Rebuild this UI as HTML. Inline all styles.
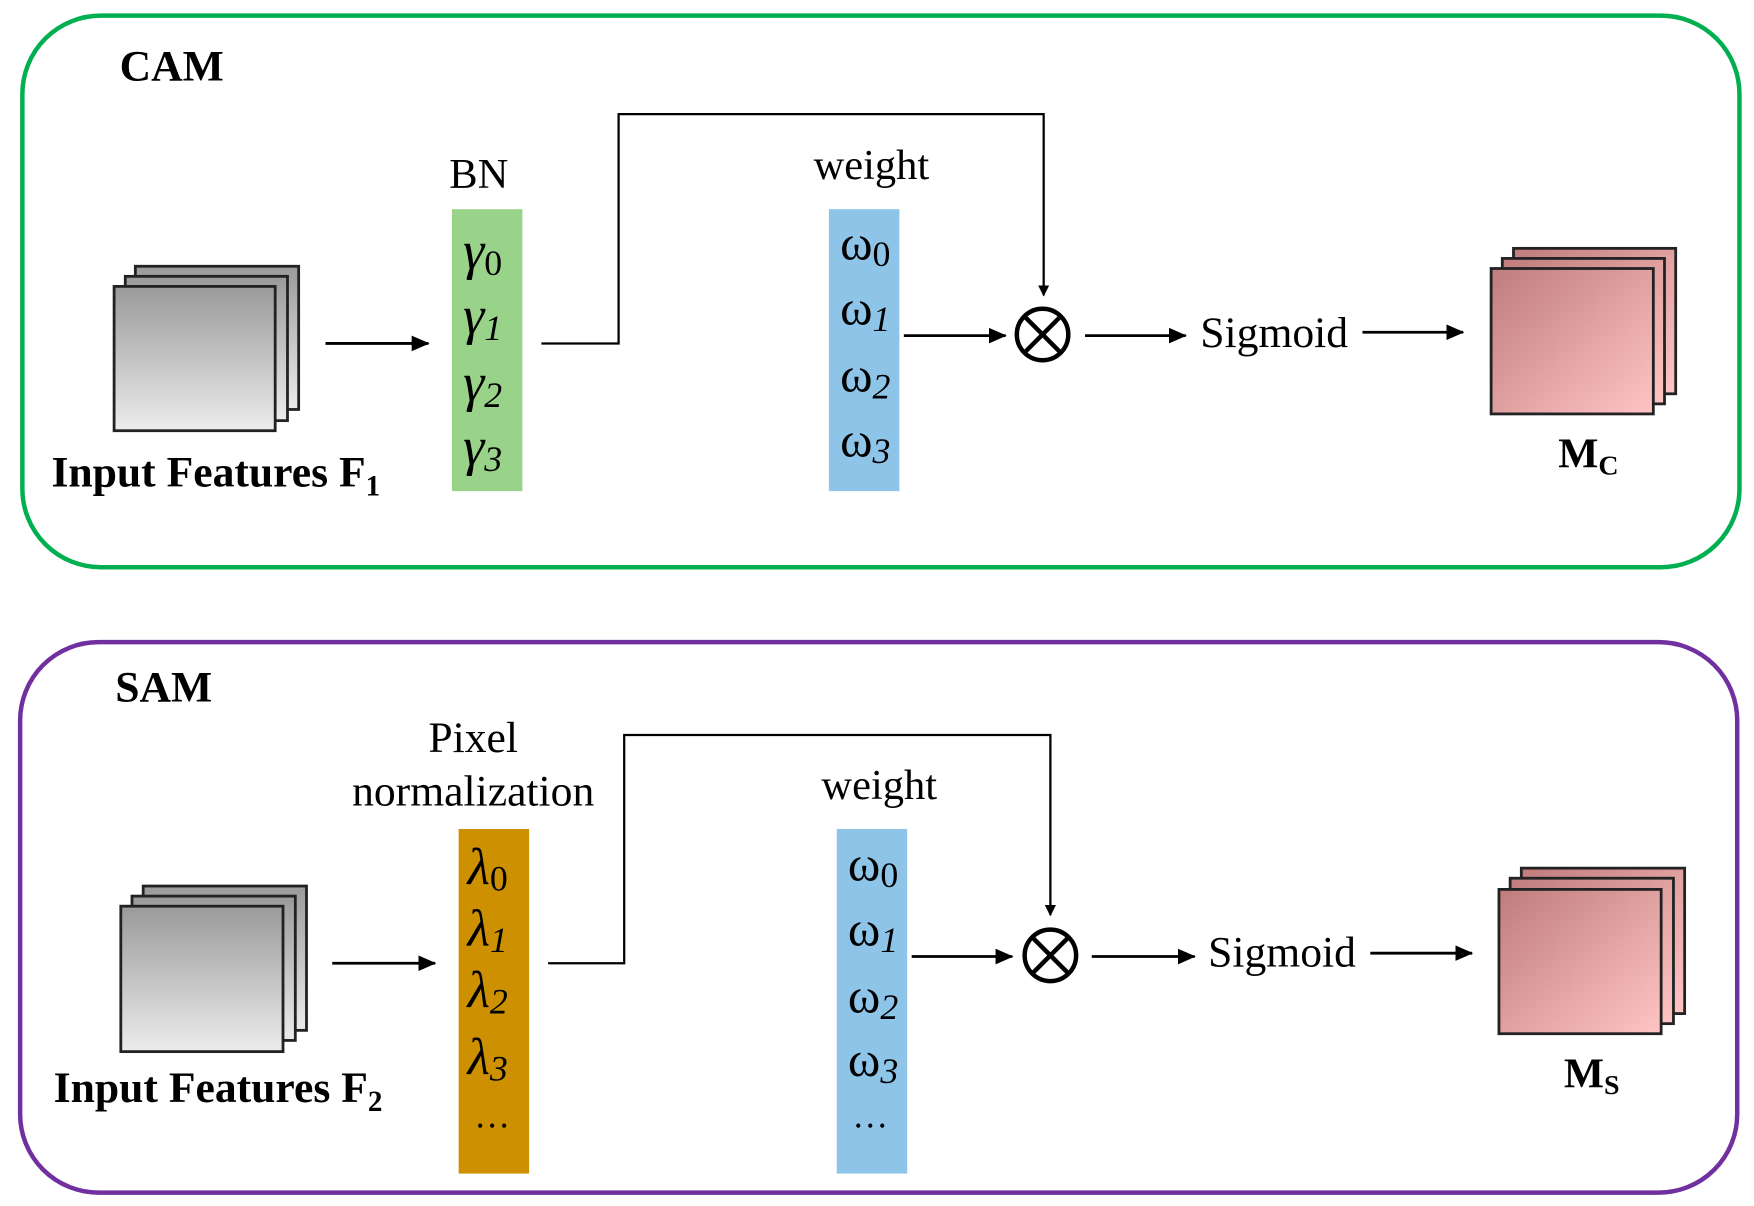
<!DOCTYPE html>
<html><head><meta charset="utf-8"><style>html,body{margin:0;padding:0;background:#fff}svg{display:block}</style></head>
<body>
<svg width="1754" height="1206" viewBox="0 0 1568 1078" preserveAspectRatio="none" xmlns="http://www.w3.org/2000/svg" font-family="'Liberation Serif', serif">
<defs>
<linearGradient id="g" x1="0" y1="0" x2="0" y2="1"><stop offset="0" stop-color="#9a9a9a"/><stop offset="1" stop-color="#ececec"/></linearGradient>
<linearGradient id="p" x1="0" y1="0" x2="1" y2="1"><stop offset="0" stop-color="#c07c7c"/><stop offset="1" stop-color="#ffc4c4"/></linearGradient>
<marker id="a" markerWidth="10" markerHeight="10" refX="9" refY="5" orient="auto" markerUnits="userSpaceOnUse" viewBox="0 0 10 10"><path d="M0,0 L10,5 L0,10 z" fill="#000"/></marker>
<marker id="b" markerWidth="16" markerHeight="14" refX="15" refY="7" orient="auto" markerUnits="userSpaceOnUse" viewBox="0 0 16 14"><path d="M0,0 L16,7 L0,14 z" fill="#000"/></marker>
</defs>
<rect x="20" y="14" width="1535" height="493" rx="70" fill="none" stroke="#00b050" stroke-width="4"/>
<rect x="18" y="574" width="1535" height="492" rx="70" fill="none" stroke="#7030a0" stroke-width="4"/>

<g id="cam">
<text x="107" y="72" font-size="39" font-weight="bold">CAM</text>
<rect x="121" y="238" width="146" height="128" fill="url(#g)" stroke="#222" stroke-width="2.5"/>
<rect x="112" y="247" width="145" height="129" fill="url(#g)" stroke="#222" stroke-width="2.5"/>
<rect x="102" y="256" width="144" height="129" fill="url(#g)" stroke="#222" stroke-width="2.5"/>
<text x="46" y="435" font-size="39" font-weight="bold">Input Features F<tspan font-size="26" dy="8">1</tspan></text>
<line x1="291" y1="307" x2="383" y2="307" stroke="#000" stroke-width="2.5" marker-end="url(#b)"/>
<text x="428" y="168" font-size="38" text-anchor="middle">BN</text>
<rect x="404" y="187" width="63" height="252" fill="#99d38a"/>
<g font-size="48" font-style="italic"><text x="414" y="240">γ<tspan font-size="32" font-style="normal" dy="6">0</tspan></text>
<text x="414" y="298">γ<tspan font-size="32" dy="6">1</tspan></text>
<text x="414" y="358">γ<tspan font-size="32" dy="6">2</tspan></text>
<text x="414" y="415">γ<tspan font-size="32" dy="6">3</tspan></text></g>
<polyline points="484,307 553,307 553,102 933,102 933,264" fill="none" stroke="#000" stroke-width="2" marker-end="url(#a)"/>
<text x="779" y="160" font-size="38" text-anchor="middle">weight</text>
<rect x="741" y="187" width="63" height="252" fill="#8ec4e8"/>
<g font-size="44"><text x="751" y="232">ω<tspan font-size="32" dy="6">0</tspan></text>
<text x="751" y="290">ω<tspan font-size="32" font-style="italic" dy="6">1</tspan></text>
<text x="751" y="350">ω<tspan font-size="32" font-style="italic" dy="6">2</tspan></text>
<text x="751" y="408">ω<tspan font-size="32" font-style="italic" dy="6">3</tspan></text></g>
<line x1="808" y1="300" x2="899" y2="300" stroke="#000" stroke-width="2.5" marker-end="url(#b)"/>
<circle cx="932" cy="299" r="23" fill="none" stroke="#000" stroke-width="4"/>
<line x1="916" y1="283" x2="948" y2="315" stroke="#000" stroke-width="4"/><line x1="948" y1="283" x2="916" y2="315" stroke="#000" stroke-width="4"/>
<line x1="970" y1="300" x2="1060" y2="300" stroke="#000" stroke-width="2.5" marker-end="url(#b)"/>
<text x="1073" y="310" font-size="39">Sigmoid</text>
<line x1="1218" y1="297" x2="1308" y2="297" stroke="#000" stroke-width="2.5" marker-end="url(#b)"/>
<rect x="1353" y="222" width="145" height="130" fill="url(#p)" stroke="#222" stroke-width="2.5"/>
<rect x="1343" y="231" width="145" height="130" fill="url(#p)" stroke="#222" stroke-width="2.5"/>
<rect x="1333" y="240" width="145" height="130" fill="url(#p)" stroke="#222" stroke-width="2.5"/>
<text x="1393" y="418" font-size="38" font-weight="bold">M<tspan font-size="25" dy="6">C</tspan></text>
</g>

<g id="sam">
<text x="103" y="627" font-size="39" font-weight="bold">SAM</text>
<rect x="128" y="792" width="146" height="129" fill="url(#g)" stroke="#222" stroke-width="2.5"/>
<rect x="118" y="801" width="146" height="129" fill="url(#g)" stroke="#222" stroke-width="2.5"/>
<rect x="108" y="810" width="145" height="130" fill="url(#g)" stroke="#222" stroke-width="2.5"/>
<text x="48" y="985" font-size="39" font-weight="bold">Input Features F<tspan font-size="26" dy="8">2</tspan></text>
<line x1="297" y1="861" x2="389" y2="861" stroke="#000" stroke-width="2.5" marker-end="url(#b)"/>
<text x="423" y="672" font-size="39" text-anchor="middle">Pixel</text>
<text x="423" y="720" font-size="39" text-anchor="middle">normalization</text>
<rect x="410" y="741" width="63" height="308" fill="#cc9000"/>
<g font-size="46" font-style="italic"><text x="418" y="790">λ<tspan font-size="32" font-style="normal" dy="6">0</tspan></text>
<text x="418" y="845">λ<tspan font-size="32" dy="6">1</tspan></text>
<text x="418" y="900">λ<tspan font-size="32" dy="6">2</tspan></text>
<text x="418" y="960">λ<tspan font-size="32" dy="6">3</tspan></text></g>
<text x="424" y="1008" font-size="32">…</text>
<polyline points="490,861 558,861 558,657 939,657 939,818" fill="none" stroke="#000" stroke-width="2" marker-end="url(#a)"/>
<text x="786" y="714" font-size="38" text-anchor="middle">weight</text>
<rect x="748" y="741" width="63" height="308" fill="#8ec4e8"/>
<g font-size="44"><text x="758" y="787">ω<tspan font-size="32" dy="6">0</tspan></text>
<text x="758" y="845">ω<tspan font-size="32" font-style="italic" dy="6">1</tspan></text>
<text x="758" y="905">ω<tspan font-size="32" font-style="italic" dy="6">2</tspan></text>
<text x="758" y="962">ω<tspan font-size="32" font-style="italic" dy="6">3</tspan></text></g>
<text x="762" y="1008" font-size="32">…</text>
<line x1="815" y1="855" x2="905" y2="855" stroke="#000" stroke-width="2.5" marker-end="url(#b)"/>
<circle cx="939" cy="854" r="23" fill="none" stroke="#000" stroke-width="4"/>
<line x1="923" y1="838" x2="955" y2="870" stroke="#000" stroke-width="4"/><line x1="955" y1="838" x2="923" y2="870" stroke="#000" stroke-width="4"/>
<line x1="976" y1="855" x2="1068" y2="855" stroke="#000" stroke-width="2.5" marker-end="url(#b)"/>
<text x="1080" y="864" font-size="39">Sigmoid</text>
<line x1="1225" y1="852" x2="1316" y2="852" stroke="#000" stroke-width="2.5" marker-end="url(#b)"/>
<rect x="1360" y="776" width="146" height="130" fill="url(#p)" stroke="#222" stroke-width="2.5"/>
<rect x="1350" y="785" width="146" height="130" fill="url(#p)" stroke="#222" stroke-width="2.5"/>
<rect x="1340" y="795" width="145" height="129" fill="url(#p)" stroke="#222" stroke-width="2.5"/>
<text x="1398" y="972" font-size="38" font-weight="bold">M<tspan font-size="25" dy="6">S</tspan></text>
</g>
</svg>
</body></html>
